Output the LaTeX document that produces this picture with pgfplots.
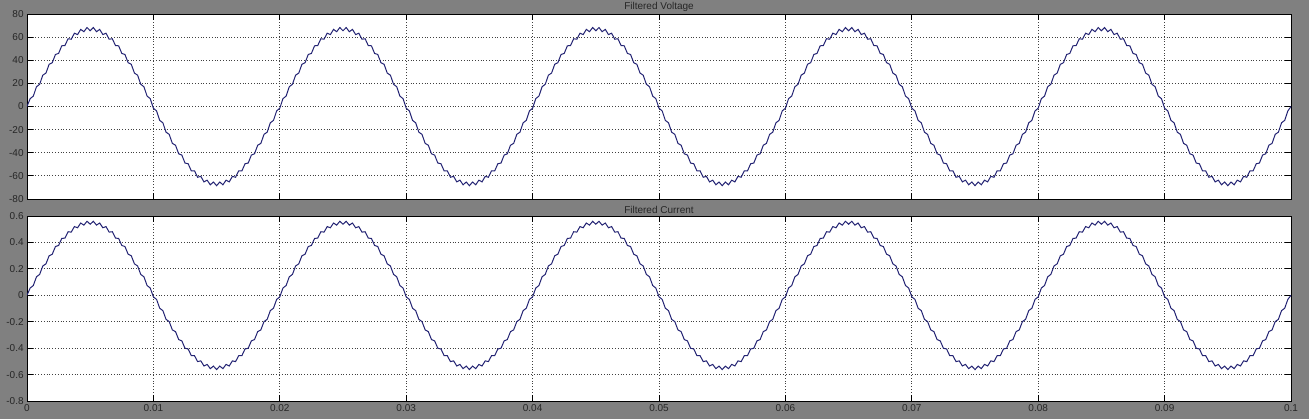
\documentclass[border=0pt]{standalone}
\usepackage{pgfplots}
\pgfplotsset{compat=1.18}
\usepackage{pgfplotstable}
\usepackage{fontspec}
\setmainfont{Liberation Sans}
\definecolor{figgray}{RGB}{128,128,128}
\definecolor{wave}{RGB}{35,35,115}

\pgfplotstableread[row sep=\\]{
t v i\\
0 0 0\\ 0.25 6.8 0.055\\ 0.5 9.0 0.074\\ 0.75 17.1 0.140\\ 1 19.2 0.158\\ 1.25 27.1 0.222\\ 1.5 28.9 0.238\\ 1.75 36.5 0.299\\
2 37.9 0.311\\ 2.25 45.0 0.369\\ 2.5 45.9 0.377\\ 2.75 52.5 0.430\\ 3 52.7 0.433\\ 3.25 58.6 0.481\\ 3.5 58.2 0.478\\ 3.75 63.4 0.520\\
4 62.2 0.511\\ 4.25 66.7 0.547\\ 4.5 64.7 0.531\\ 4.75 68.3 0.560\\ 5 65.5 0.538\\ 5.25 68.3 0.560\\ 5.5 64.7 0.531\\ 5.75 66.7 0.547\\
6 62.2 0.511\\ 6.25 63.4 0.520\\ 6.5 58.2 0.478\\ 6.75 58.6 0.481\\ 7 52.7 0.433\\ 7.25 52.5 0.430\\ 7.5 45.9 0.377\\ 7.75 45.0 0.369\\
8 37.9 0.311\\ 8.25 36.5 0.299\\ 8.5 28.9 0.238\\ 8.75 27.1 0.222\\ 9 19.2 0.158\\ 9.25 17.1 0.140\\ 9.5 9.0 0.074\\ 9.75 6.8 0.055\\
10 -1.5 -0.012\\ 10.25 -3.8 -0.031\\ 10.5 -12.0 -0.098\\ 10.75 -14.1 -0.116\\ 11 -22.2 -0.182\\ 11.25 -24.1 -0.199\\ 11.5 -31.9 -0.262\\ 11.75 -33.5 -0.275\\
12 -40.9 -0.335\\ 12.25 -42.0 -0.345\\ 12.5 -48.9 -0.401\\ 12.75 -49.5 -0.406\\ 13 -55.7 -0.457\\ 13.25 -55.6 -0.457\\ 13.5 -61.2 -0.502\\ 13.75 -60.4 -0.496\\
14 -65.2 -0.535\\ 14.25 -63.7 -0.523\\ 14.5 -67.7 -0.555\\ 14.75 -65.3 -0.536\\ 15 -68.5 -0.562\\ 15.25 -65.3 -0.536\\ 15.5 -67.7 -0.555\\ 15.75 -63.7 -0.523\\
16 -65.2 -0.535\\ 16.25 -60.4 -0.496\\ 16.5 -61.2 -0.502\\ 16.75 -55.6 -0.457\\ 17 -55.7 -0.457\\ 17.25 -49.5 -0.406\\ 17.5 -48.9 -0.401\\ 17.75 -42.0 -0.345\\
18 -40.9 -0.335\\ 18.25 -33.5 -0.275\\ 18.5 -31.9 -0.262\\ 18.75 -24.1 -0.199\\ 19 -22.2 -0.182\\ 19.25 -14.1 -0.116\\ 19.5 -12.0 -0.098\\ 19.75 -3.8 -0.031\\
20 -1.5 -0.012\\ 20.25 6.8 0.055\\ 20.5 9.0 0.074\\ 20.75 17.1 0.140\\ 21 19.2 0.158\\ 21.25 27.1 0.222\\ 21.5 28.9 0.238\\ 21.75 36.5 0.299\\
22 37.9 0.311\\ 22.25 45.0 0.369\\ 22.5 45.9 0.377\\ 22.75 52.5 0.430\\ 23 52.7 0.433\\ 23.25 58.6 0.481\\ 23.5 58.2 0.478\\ 23.75 63.4 0.520\\
24 62.2 0.511\\ 24.25 66.7 0.547\\ 24.5 64.7 0.531\\ 24.75 68.3 0.560\\ 25 65.5 0.538\\ 25.25 68.3 0.560\\ 25.5 64.7 0.531\\ 25.75 66.7 0.547\\
26 62.2 0.511\\ 26.25 63.4 0.520\\ 26.5 58.2 0.478\\ 26.75 58.6 0.481\\ 27 52.7 0.433\\ 27.25 52.5 0.430\\ 27.5 45.9 0.377\\ 27.75 45.0 0.369\\
28 37.9 0.311\\ 28.25 36.5 0.299\\ 28.5 28.9 0.238\\ 28.75 27.1 0.222\\ 29 19.2 0.158\\ 29.25 17.1 0.140\\ 29.5 9.0 0.074\\ 29.75 6.8 0.055\\
30 -1.5 -0.012\\ 30.25 -3.8 -0.031\\ 30.5 -12.0 -0.098\\ 30.75 -14.1 -0.116\\ 31 -22.2 -0.182\\ 31.25 -24.1 -0.199\\ 31.5 -31.9 -0.262\\ 31.75 -33.5 -0.275\\
32 -40.9 -0.335\\ 32.25 -42.0 -0.345\\ 32.5 -48.9 -0.401\\ 32.75 -49.5 -0.406\\ 33 -55.7 -0.457\\ 33.25 -55.6 -0.457\\ 33.5 -61.2 -0.502\\ 33.75 -60.4 -0.496\\
34 -65.2 -0.535\\ 34.25 -63.7 -0.523\\ 34.5 -67.7 -0.555\\ 34.75 -65.3 -0.536\\ 35 -68.5 -0.562\\ 35.25 -65.3 -0.536\\ 35.5 -67.7 -0.555\\ 35.75 -63.7 -0.523\\
36 -65.2 -0.535\\ 36.25 -60.4 -0.496\\ 36.5 -61.2 -0.502\\ 36.75 -55.6 -0.457\\ 37 -55.7 -0.457\\ 37.25 -49.5 -0.406\\ 37.5 -48.9 -0.401\\ 37.75 -42.0 -0.345\\
38 -40.9 -0.335\\ 38.25 -33.5 -0.275\\ 38.5 -31.9 -0.262\\ 38.75 -24.1 -0.199\\ 39 -22.2 -0.182\\ 39.25 -14.1 -0.116\\ 39.5 -12.0 -0.098\\ 39.75 -3.8 -0.031\\
40 -1.5 -0.012\\ 40.25 6.8 0.055\\ 40.5 9.0 0.074\\ 40.75 17.1 0.140\\ 41 19.2 0.158\\ 41.25 27.1 0.222\\ 41.5 28.9 0.238\\ 41.75 36.5 0.299\\
42 37.9 0.311\\ 42.25 45.0 0.369\\ 42.5 45.9 0.377\\ 42.75 52.5 0.430\\ 43 52.7 0.433\\ 43.25 58.6 0.481\\ 43.5 58.2 0.478\\ 43.75 63.4 0.520\\
44 62.2 0.511\\ 44.25 66.7 0.547\\ 44.5 64.7 0.531\\ 44.75 68.3 0.560\\ 45 65.5 0.538\\ 45.25 68.3 0.560\\ 45.5 64.7 0.531\\ 45.75 66.7 0.547\\
46 62.2 0.511\\ 46.25 63.4 0.520\\ 46.5 58.2 0.478\\ 46.75 58.6 0.481\\ 47 52.7 0.433\\ 47.25 52.5 0.430\\ 47.5 45.9 0.377\\ 47.75 45.0 0.369\\
48 37.9 0.311\\ 48.25 36.5 0.299\\ 48.5 28.9 0.238\\ 48.75 27.1 0.222\\ 49 19.2 0.158\\ 49.25 17.1 0.140\\ 49.5 9.0 0.074\\ 49.75 6.8 0.055\\
50 -1.5 -0.012\\ 50.25 -3.8 -0.031\\ 50.5 -12.0 -0.098\\ 50.75 -14.1 -0.116\\ 51 -22.2 -0.182\\ 51.25 -24.1 -0.199\\ 51.5 -31.9 -0.262\\ 51.75 -33.5 -0.275\\
52 -40.9 -0.335\\ 52.25 -42.0 -0.345\\ 52.5 -48.9 -0.401\\ 52.75 -49.5 -0.406\\ 53 -55.7 -0.457\\ 53.25 -55.6 -0.457\\ 53.5 -61.2 -0.502\\ 53.75 -60.4 -0.496\\
54 -65.2 -0.535\\ 54.25 -63.7 -0.523\\ 54.5 -67.7 -0.555\\ 54.75 -65.3 -0.536\\ 55 -68.5 -0.562\\ 55.25 -65.3 -0.536\\ 55.5 -67.7 -0.555\\ 55.75 -63.7 -0.523\\
56 -65.2 -0.535\\ 56.25 -60.4 -0.496\\ 56.5 -61.2 -0.502\\ 56.75 -55.6 -0.457\\ 57 -55.7 -0.457\\ 57.25 -49.5 -0.406\\ 57.5 -48.9 -0.401\\ 57.75 -42.0 -0.345\\
58 -40.9 -0.335\\ 58.25 -33.5 -0.275\\ 58.5 -31.9 -0.262\\ 58.75 -24.1 -0.199\\ 59 -22.2 -0.182\\ 59.25 -14.1 -0.116\\ 59.5 -12.0 -0.098\\ 59.75 -3.8 -0.031\\
60 -1.5 -0.012\\ 60.25 6.8 0.055\\ 60.5 9.0 0.074\\ 60.75 17.1 0.140\\ 61 19.2 0.158\\ 61.25 27.1 0.222\\ 61.5 28.9 0.238\\ 61.75 36.5 0.299\\
62 37.9 0.311\\ 62.25 45.0 0.369\\ 62.5 45.9 0.377\\ 62.75 52.5 0.430\\ 63 52.7 0.433\\ 63.25 58.6 0.481\\ 63.5 58.2 0.478\\ 63.75 63.4 0.520\\
64 62.2 0.511\\ 64.25 66.7 0.547\\ 64.5 64.7 0.531\\ 64.75 68.3 0.560\\ 65 65.5 0.538\\ 65.25 68.3 0.560\\ 65.5 64.7 0.531\\ 65.75 66.7 0.547\\
66 62.2 0.511\\ 66.25 63.4 0.520\\ 66.5 58.2 0.478\\ 66.75 58.6 0.481\\ 67 52.7 0.433\\ 67.25 52.5 0.430\\ 67.5 45.9 0.377\\ 67.75 45.0 0.369\\
68 37.9 0.311\\ 68.25 36.5 0.299\\ 68.5 28.9 0.238\\ 68.75 27.1 0.222\\ 69 19.2 0.158\\ 69.25 17.1 0.140\\ 69.5 9.0 0.074\\ 69.75 6.8 0.055\\
70 -1.5 -0.012\\ 70.25 -3.8 -0.031\\ 70.5 -12.0 -0.098\\ 70.75 -14.1 -0.116\\ 71 -22.2 -0.182\\ 71.25 -24.1 -0.199\\ 71.5 -31.9 -0.262\\ 71.75 -33.5 -0.275\\
72 -40.9 -0.335\\ 72.25 -42.0 -0.345\\ 72.5 -48.9 -0.401\\ 72.75 -49.5 -0.406\\ 73 -55.7 -0.457\\ 73.25 -55.6 -0.457\\ 73.5 -61.2 -0.502\\ 73.75 -60.4 -0.496\\
74 -65.2 -0.535\\ 74.25 -63.7 -0.523\\ 74.5 -67.7 -0.555\\ 74.75 -65.3 -0.536\\ 75 -68.5 -0.562\\ 75.25 -65.3 -0.536\\ 75.5 -67.7 -0.555\\ 75.75 -63.7 -0.523\\
76 -65.2 -0.535\\ 76.25 -60.4 -0.496\\ 76.5 -61.2 -0.502\\ 76.75 -55.6 -0.457\\ 77 -55.7 -0.457\\ 77.25 -49.5 -0.406\\ 77.5 -48.9 -0.401\\ 77.75 -42.0 -0.345\\
78 -40.9 -0.335\\ 78.25 -33.5 -0.275\\ 78.5 -31.9 -0.262\\ 78.75 -24.1 -0.199\\ 79 -22.2 -0.182\\ 79.25 -14.1 -0.116\\ 79.5 -12.0 -0.098\\ 79.75 -3.8 -0.031\\
80 -1.5 -0.012\\ 80.25 6.8 0.055\\ 80.5 9.0 0.074\\ 80.75 17.1 0.140\\ 81 19.2 0.158\\ 81.25 27.1 0.222\\ 81.5 28.9 0.238\\ 81.75 36.5 0.299\\
82 37.9 0.311\\ 82.25 45.0 0.369\\ 82.5 45.9 0.377\\ 82.75 52.5 0.430\\ 83 52.7 0.433\\ 83.25 58.6 0.481\\ 83.5 58.2 0.478\\ 83.75 63.4 0.520\\
84 62.2 0.511\\ 84.25 66.7 0.547\\ 84.5 64.7 0.531\\ 84.75 68.3 0.560\\ 85 65.5 0.538\\ 85.25 68.3 0.560\\ 85.5 64.7 0.531\\ 85.75 66.7 0.547\\
86 62.2 0.511\\ 86.25 63.4 0.520\\ 86.5 58.2 0.478\\ 86.75 58.6 0.481\\ 87 52.7 0.433\\ 87.25 52.5 0.430\\ 87.5 45.9 0.377\\ 87.75 45.0 0.369\\
88 37.9 0.311\\ 88.25 36.5 0.299\\ 88.5 28.9 0.238\\ 88.75 27.1 0.222\\ 89 19.2 0.158\\ 89.25 17.1 0.140\\ 89.5 9.0 0.074\\ 89.75 6.8 0.055\\
90 -1.5 -0.012\\ 90.25 -3.8 -0.031\\ 90.5 -12.0 -0.098\\ 90.75 -14.1 -0.116\\ 91 -22.2 -0.182\\ 91.25 -24.1 -0.199\\ 91.5 -31.9 -0.262\\ 91.75 -33.5 -0.275\\
92 -40.9 -0.335\\ 92.25 -42.0 -0.345\\ 92.5 -48.9 -0.401\\ 92.75 -49.5 -0.406\\ 93 -55.7 -0.457\\ 93.25 -55.6 -0.457\\ 93.5 -61.2 -0.502\\ 93.75 -60.4 -0.496\\
94 -65.2 -0.535\\ 94.25 -63.7 -0.523\\ 94.5 -67.7 -0.555\\ 94.75 -65.3 -0.536\\ 95 -68.5 -0.562\\ 95.25 -65.3 -0.536\\ 95.5 -67.7 -0.555\\ 95.75 -63.7 -0.523\\
96 -65.2 -0.535\\ 96.25 -60.4 -0.496\\ 96.5 -61.2 -0.502\\ 96.75 -55.6 -0.457\\ 97 -55.7 -0.457\\ 97.25 -49.5 -0.406\\ 97.5 -48.9 -0.401\\ 97.75 -42.0 -0.345\\
98 -40.9 -0.335\\ 98.25 -33.5 -0.275\\ 98.5 -31.9 -0.262\\ 98.75 -24.1 -0.199\\ 99 -22.2 -0.182\\ 99.25 -14.1 -0.116\\ 99.5 -12.0 -0.098\\ 99.75 -3.8 -0.031\\
100 0 0\\
}\wave

\pgfplotsset{
  every axis title shift=0pt,
  scopestyle/.style={
    scale only axis,
    width=632pt, height=92.5pt,
    xmin=0, xmax=100,
    xtick={0,10,20,30,40,50,60,70,80,90,100},
    grid=major,
    major grid style={black!75, densely dotted, line width=0.45pt},
    axis background/.style={fill=white},
    axis line style={black, line width=0.5pt},
    tick style={black, line width=0.5pt},
    major tick length=3pt,
    tick align=inside,
    xtick pos=both, ytick pos=both,
    tick label style={font=\fontsize{5}{6}\selectfont, text=black!85},
    yticklabel style={inner sep=1.5pt},
    xticklabel style={inner sep=1.5pt},
    title style={font=\fontsize{5}{6}\selectfont, text=black!85, at={(0.5,1)}, anchor=south, yshift=1pt, inner sep=0pt},
    /pgf/number format/assume math mode=true,
    clip=true,
  }
}

\begin{document}
\begin{tikzpicture}[x=1pt,y=1pt]
\fill[figgray] (0,0) rectangle (654.5,209.5);
\useasboundingbox (0,0) rectangle (654.5,209.5);

\begin{axis}[scopestyle,
  at={(13.5pt,110pt)}, anchor=south west,
  ymin=-80, ymax=80,
  ytick={-80,-60,-40,-20,0,20,40,60,80},
  yticklabels={-80,-60,-40,-20,0,20,40,60,80},
  xticklabels={},
  title={Filtered Voltage}]
\addplot[wave, line width=0.5pt] table[x=t, y=v] {\wave};
\end{axis}

\begin{axis}[scopestyle,
  at={(13.5pt,9pt)}, anchor=south west,
  ymin=-0.8, ymax=0.6,
  ytick={-0.8,-0.6,-0.4,-0.2,0,0.2,0.4,0.6},
  yticklabels={-0.8,-0.6,-0.4,-0.2,0,0.2,0.4,0.6},
  xticklabels={0,0.01,0.02,0.03,0.04,0.05,0.06,0.07,0.08,0.09,0.1},
  title={Filtered Current}]
\addplot[wave, line width=0.5pt] table[x=t, y=i] {\wave};
\end{axis}
\end{tikzpicture}
\end{document}
